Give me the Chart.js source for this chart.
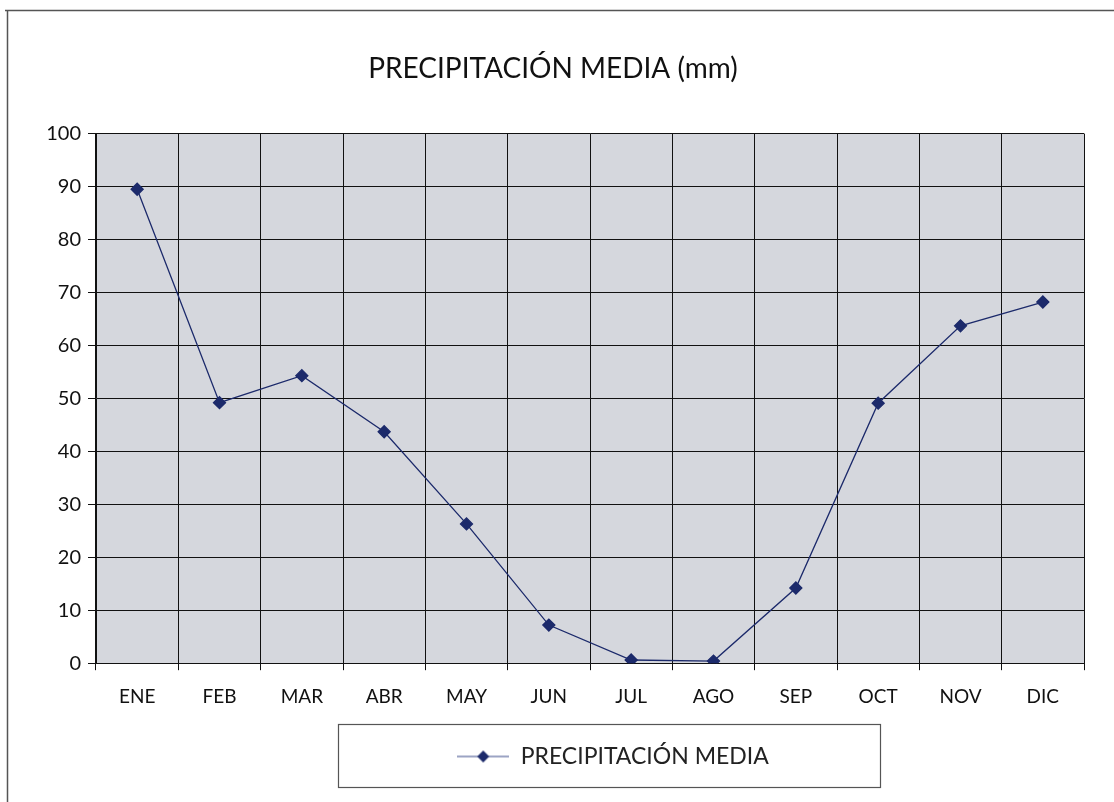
<!DOCTYPE html>
<html><head><meta charset="utf-8">
<script src="https://cdn.jsdelivr.net/npm/chart.js@4/dist/chart.umd.min.js"></script>
<style>html,body{margin:0;padding:0;background:#fff;}#wrap{width:1114px;height:802px;}</style>
</head><body><div id="wrap"><canvas id="c" width="1114" height="802"></canvas></div>
<script>
const categories = ["ENE","FEB","MAR","ABR","MAY","JUN","JUL","AGO","SEP","OCT","NOV","DIC"];
const precipitacion = [89.5, 49.2, 54.3, 43.7, 26.3, 7.2, 0.6, 0.4, 14.2, 49.1, 63.7, 68.2];
const yTicks = [0,10,20,30,40,50,60,70,80,90,100];
const seriesName = "PRECIPITACIÓN MEDIA";
const titleText = "PRECIPITACIÓN MEDIA (mm)";

const navy = '#1c2a6b';
const FONT = 'Lato, "DejaVu Sans", sans-serif';

// legend symbol: line + diamond
const sym = document.createElement('canvas');
sym.width = 52; sym.height = 16;
(function(){
  const g = sym.getContext('2d');
  g.strokeStyle = '#3a4a8a'; g.lineWidth = 1.2;
  g.beginPath(); g.moveTo(0,8); g.lineTo(52,8); g.stroke();
  g.fillStyle = navy;
  g.beginPath(); g.moveTo(26,2); g.lineTo(32,8); g.lineTo(26,14); g.lineTo(20,8); g.closePath(); g.fill();
})();

const framePlugin = {
  id: 'frame',
  afterLayout(chart){
    const lg = chart.legend;
    if (lg) { lg.left += 60; lg.right += 60; }
  },
  beforeDraw(chart){
    const {ctx, chartArea:a} = chart;
    ctx.save();
    ctx.fillStyle = '#d5d7dd';
    ctx.fillRect(a.left, a.top, a.right-a.left, a.bottom-a.top);
    ctx.strokeStyle = '#555'; ctx.lineWidth = 1.5;
    ctx.beginPath(); ctx.moveTo(5,10.5); ctx.lineTo(1114,10.5); ctx.stroke();
    ctx.beginPath(); ctx.moveTo(7.5,10); ctx.lineTo(7.5,802); ctx.stroke();
    ctx.restore();
  },
  afterDraw(chart){
    const {ctx} = chart;
    ctx.save();
    ctx.strokeStyle = '#555'; ctx.lineWidth = 1.2;
    ctx.strokeRect(338.5, 724.5, 542, 63);
    ctx.restore();
  }
};

new Chart(document.getElementById('c'), {
  type: 'line',
  data: {
    labels: categories,
    datasets: [{
      label: seriesName,
      data: precipitacion,
      borderColor: navy,
      borderWidth: 1.3,
      backgroundColor: navy,
      pointStyle: 'rectRot',
      pointRadius: 6,
      pointBackgroundColor: navy,
      pointBorderColor: navy,
      tension: 0
    }]
  },
  options: {
    responsive: false,
    animation: false,
    layout: { padding: { left: 22, right: 30, top: 0, bottom: 24 } },
    plugins: {
      title: { display: true, text: titleText, color: '#111',
        font: { family: FONT, size: 28, weight: 'normal' }, padding: { top: 52, bottom: 48 } },
      legend: { position: 'bottom',
        labels: { color: '#222', font: { family: FONT, size: 23 }, usePointStyle: true,
          pointStyleWidth: 52,
          padding: 22,
          generateLabels: (chart) => [{ text: seriesName, pointStyle: sym, fontColor: '#222', lineWidth: 0, strokeStyle: 'transparent', fillStyle: 'transparent', datasetIndex: 0 }]
        } },
      tooltip: { enabled: false }
    },
    scales: {
      x: {
        offset: true,
        grid: { offset: true, color: '#111', lineWidth: 1, tickLength: 7, drawTicks: true },
        border: { color: '#111', width: 1 },
        ticks: { color: '#111', font: { family: FONT, size: 19 }, padding: 15, maxRotation: 0 }
      },
      y: {
        min: 0, max: 100,
        afterFit: (s) => { s.width = 74; },
        afterBuildTicks: (s) => { s.ticks = yTicks.map(v => ({ value: v })); },
        grid: { color: '#111', lineWidth: 1, tickLength: 8 },
        border: { color: '#111', width: 1 },
        ticks: { color: '#111', font: { family: FONT, size: 20 }, padding: 7 }
      }
    }
  },
  plugins: [framePlugin]
});
</script></body></html>
